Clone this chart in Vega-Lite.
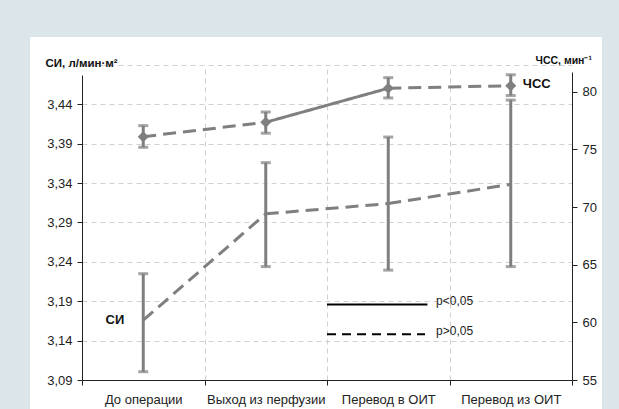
{
  "$schema": "https://vega.github.io/schema/vega-lite/v6.json",
  "width": 572,
  "height": 372,
  "autosize": {"type": "none"},
  "padding": {"left": 30, "top": 37, "right": 17, "bottom": 0},
  "background": "#dbe5ea",
  "config": {
    "view": {"fill": "white", "stroke": null},
    "font": "Liberation Sans",
    "axis": {
      "labelFont": "Liberation Sans",
      "labelFontSize": 13,
      "labelColor": "#222222",
      "domainColor": "#222222",
      "tickColor": "#222222",
      "tickSize": 5,
      "gridColor": "#d0d0d0",
      "gridDash": [5, 4],
      "gridWidth": 1,
      "titleFont": "Liberation Sans",
      "titleFontSize": 11.5,
      "titleFontWeight": "bold",
      "titleColor": "#111111"
    }
  },
  "datasets": {
    "si": [
      {"cat": "До операции", "mean": 3.166, "lo": 3.1005, "hi": 3.225, "label": "СИ"},
      {"cat": "Выход из перфузии", "mean": 3.301, "lo": 3.234, "hi": 3.366, "label": ""},
      {"cat": "Перевод в ОИТ", "mean": 3.314, "lo": 3.2295, "hi": 3.3985, "label": ""},
      {"cat": "Перевод из ОИТ", "mean": 3.3385, "lo": 3.234, "hi": 3.4455, "label": ""}
    ],
    "hr": [
      {"cat": "До операции", "mean": 76.1, "lo": 75.18, "hi": 77.06, "label": ""},
      {"cat": "Выход из перфузии", "mean": 77.35, "lo": 76.4, "hi": 78.24, "label": ""},
      {"cat": "Перевод в ОИТ", "mean": 80.3, "lo": 79.46, "hi": 81.22, "label": ""},
      {"cat": "Перевод из ОИТ", "mean": 80.52, "lo": 79.67, "hi": 81.47, "label": "ЧСС"}
    ],
    "siSeg": [
      {"seg": 1, "cat": "До операции", "v": 3.166, "sig": "p>0,05"},
      {"seg": 1, "cat": "Выход из перфузии", "v": 3.301, "sig": "p>0,05"},
      {"seg": 2, "cat": "Выход из перфузии", "v": 3.301, "sig": "p>0,05"},
      {"seg": 2, "cat": "Перевод в ОИТ", "v": 3.314, "sig": "p>0,05"},
      {"seg": 3, "cat": "Перевод в ОИТ", "v": 3.314, "sig": "p>0,05"},
      {"seg": 3, "cat": "Перевод из ОИТ", "v": 3.3385, "sig": "p>0,05"}
    ],
    "hrSeg": [
      {"seg": 1, "cat": "До операции", "v": 76.1, "sig": "p>0,05"},
      {"seg": 1, "cat": "Выход из перфузии", "v": 77.35, "sig": "p>0,05"},
      {"seg": 2, "cat": "Выход из перфузии", "v": 77.35, "sig": "p<0,05"},
      {"seg": 2, "cat": "Перевод в ОИТ", "v": 80.3, "sig": "p<0,05"},
      {"seg": 3, "cat": "Перевод в ОИТ", "v": 80.3, "sig": "p>0,05"},
      {"seg": 3, "cat": "Перевод из ОИТ", "v": 80.52, "sig": "p>0,05"}
    ],
    "legend": [
      {"sig": "p<0,05", "x0": 2.0, "x1": 2.82, "tx": 2.89, "y": 3.186},
      {"sig": "p>0,05", "x0": 2.0, "x1": 2.8, "tx": 2.89, "y": 3.148}
    ]
  },
  "resolve": {"scale": {"x": "independent", "y": "independent", "strokeDash": "independent"}},
  "layer": [
    {
      "encoding": {
        "x": {
          "field": "cat",
          "type": "nominal",
          "sort": null,
          "scale": {
            "type": "band",
            "domain": ["До операции", "Выход из перфузии", "Перевод в ОИТ", "Перевод из ОИТ"],
            "range": [52, 542],
            "paddingInner": 0,
            "paddingOuter": 0
          },
          "axis": {
            "orient": "bottom",
            "offset": -29,
            "title": null,
            "grid": false,
            "tickBand": "extent",
            "labelAngle": 0,
            "labelPadding": 8,
            "labelBaseline": "top"
          }
        }
      },
      "layer": [
        {
          "data": {"name": "si"},
          "mark": {"type": "rule", "color": "#7f7f7f", "strokeWidth": 3},
          "encoding": {
            "y": {
              "field": "lo",
              "type": "quantitative",
              "scale": {"domain": [3.09, 3.4773], "range": [343, 38], "zero": false, "nice": false},
              "axis": {
                "orient": "left",
                "offset": -52,
                "title": "СИ, л/мин·м²",
                "titleAngle": 0,
                "titleAlign": "left",
                "titleBaseline": "alphabetic",
                "titleX": -37,
                "titleY": 29,
                "values": [3.09, 3.14, 3.19, 3.24, 3.29, 3.34, 3.39, 3.44],
                "labelExpr": "replace(format(datum.value, '.2f'), '.', ',')",
                "grid": true,
                "labelPadding": 5
              }
            },
            "y2": {"field": "hi"}
          }
        },
        {
          "data": {"name": "si"},
          "mark": {"type": "tick", "color": "#7f7f7f", "size": 10, "thickness": 3, "orient": "horizontal"},
          "encoding": {"y": {"field": "lo", "type": "quantitative"}}
        },
        {
          "data": {"name": "si"},
          "mark": {"type": "tick", "color": "#7f7f7f", "size": 10, "thickness": 3, "orient": "horizontal"},
          "encoding": {"y": {"field": "hi", "type": "quantitative"}}
        },
        {
          "data": {"name": "siSeg"},
          "mark": {"type": "line", "color": "#7f7f7f", "strokeWidth": 3, "strokeCap": "butt"},
          "encoding": {
            "y": {"field": "v", "type": "quantitative"},
            "detail": {"field": "seg", "type": "nominal"},
            "strokeDash": {
              "field": "sig",
              "type": "nominal",
              "scale": {"domain": ["p<0,05", "p>0,05"], "range": [[1, 0], [13, 7]]},
              "legend": null
            }
          }
        },
        {
          "data": {"name": "si"},
          "mark": {"type": "text", "align": "right", "baseline": "middle", "dx": -19, "fontSize": 13, "fontWeight": "bold", "color": "#111111"},
          "encoding": {
            "y": {"field": "mean", "type": "quantitative"},
            "text": {"field": "label"}
          }
        }
      ]
    },
    {
      "encoding": {
        "x": {
          "field": "cat",
          "type": "nominal",
          "sort": null,
          "scale": {
            "type": "band",
            "domain": ["До операции", "Выход из перфузии", "Перевод в ОИТ", "Перевод из ОИТ"],
            "range": [52, 542],
            "paddingInner": 0,
            "paddingOuter": 0
          },
          "axis": null
        }
      },
      "layer": [
        {
          "data": {"name": "hrSeg"},
          "mark": {"type": "line", "color": "#7f7f7f", "strokeWidth": 3, "strokeCap": "butt"},
          "encoding": {
            "y": {
              "field": "v",
              "type": "quantitative",
              "scale": {"domain": [55, 81.71], "range": [343, 35], "zero": false, "nice": false},
              "axis": {
                "orient": "right",
                "offset": -30,
                "title": "ЧСС, мин⁻¹",
                "titleAngle": 0,
                "titleAlign": "left",
                "titleBaseline": "alphabetic",
                "titleX": -37,
                "titleY": 26,
                "titleFontSize": 10.5,
                "values": [55, 60, 65, 70, 75, 80],
                "grid": false,
                "labelPadding": 5
              }
            },
            "detail": {"field": "seg", "type": "nominal"},
            "strokeDash": {
              "field": "sig",
              "type": "nominal",
              "scale": {"domain": ["p<0,05", "p>0,05"], "range": [[1, 0], [13, 7]]},
              "legend": null
            }
          }
        },
        {
          "data": {"name": "hr"},
          "mark": {"type": "rule", "color": "#7f7f7f", "strokeWidth": 3},
          "encoding": {
            "y": {"field": "lo", "type": "quantitative"},
            "y2": {"field": "hi"}
          }
        },
        {
          "data": {"name": "hr"},
          "mark": {"type": "tick", "color": "#7f7f7f", "size": 10, "thickness": 3, "orient": "horizontal"},
          "encoding": {"y": {"field": "lo", "type": "quantitative"}}
        },
        {
          "data": {"name": "hr"},
          "mark": {"type": "tick", "color": "#7f7f7f", "size": 10, "thickness": 3, "orient": "horizontal"},
          "encoding": {"y": {"field": "hi", "type": "quantitative"}}
        },
        {
          "data": {"name": "hr"},
          "mark": {"type": "point", "shape": "diamond", "filled": true, "size": 120, "color": "#7f7f7f", "opacity": 1},
          "encoding": {"y": {"field": "mean", "type": "quantitative"}}
        },
        {
          "data": {"name": "hr"},
          "mark": {"type": "text", "align": "left", "baseline": "middle", "dx": 12, "dy": -2, "fontSize": 13, "fontWeight": "bold", "color": "#111111"},
          "encoding": {
            "y": {"field": "mean", "type": "quantitative"},
            "text": {"field": "label"}
          }
        }
      ]
    },
    {
      "data": {"name": "legend"},
      "encoding": {
        "y": {
          "field": "y",
          "type": "quantitative",
          "scale": {"domain": [3.09, 3.49], "range": [343, 28], "zero": false, "nice": false},
          "axis": {
            "orient": "left",
            "offset": -52,
            "values": [3.49],
            "grid": true,
            "domain": false,
            "ticks": false,
            "labels": false,
            "title": null
          }
        }
      },
      "layer": [
        {
          "mark": {"type": "rule", "color": "#000000", "strokeWidth": 2},
          "encoding": {
            "x": {
              "field": "x0",
              "type": "quantitative",
              "scale": {"domain": [0, 4], "range": [52, 542], "zero": false, "nice": false},
              "axis": {
                "orient": "top",
                "values": [1, 2, 3],
                "grid": true,
                "domain": false,
                "ticks": false,
                "labels": false,
                "title": null
              }
            },
            "x2": {"field": "x1"},
            "strokeDash": {
              "field": "sig",
              "type": "nominal",
              "scale": {"domain": ["p<0,05", "p>0,05"], "range": [[1, 0], [9, 6]]},
              "legend": null
            }
          }
        },
        {
          "mark": {"type": "text", "align": "left", "baseline": "middle", "dy": -3, "fontSize": 12, "color": "#222222"},
          "encoding": {
            "x": {"field": "tx", "type": "quantitative"},
            "text": {"field": "sig"}
          }
        }
      ]
    }
  ]
}
